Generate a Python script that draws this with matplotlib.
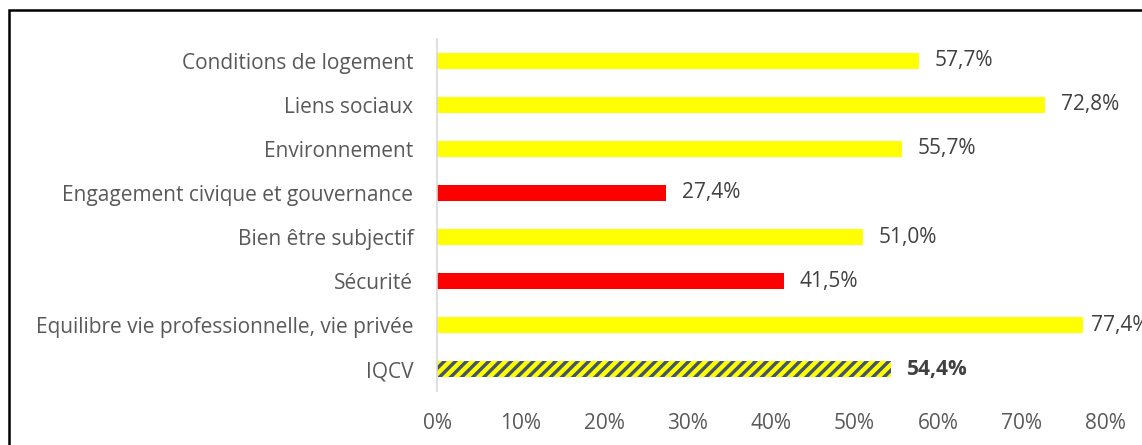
import matplotlib.pyplot as plt
from matplotlib.patches import Rectangle
from matplotlib.ticker import FuncFormatter

plt.rcParams['font.family'] = ['Open Sans', 'DejaVu Sans']
plt.rcParams['hatch.linewidth'] = 3.2

categories = ["IQCV",
              "Equilibre vie professionnelle, vie privée",
              "Sécurité",
              "Bien être subjectif",
              "Engagement civique et gouvernance",
              "Environnement",
              "Liens sociaux",
              "Conditions de logement"]
values = [54.4, 77.4, 41.5, 51.0, 27.4, 55.7, 72.8, 57.7]
colors = ["#44546A", "#FFFF00", "#FF0000", "#FFFF00", "#FF0000",
          "#FFFF00", "#FFFF00", "#FFFF00"]

fig = plt.figure(figsize=(11.42, 4.45), dpi=100)
ax = fig.add_axes([0.3827, 0.1213, 0.5849, 0.7911])

y = list(range(len(categories)))
bars = ax.barh(y, values, height=0.37, color=colors, linewidth=0)
# IQCV bar: dark with yellow diagonal stripes
bars[0].set_hatch("///")
bars[0].set_edgecolor("#FFFF00")

for i, v in enumerate(values):
    # the longest bar's label sits tighter so it stays inside the frame
    offset = 0.9 if v > 75 else 1.9
    ax.text(v + offset, i, f"{v:.1f}%".replace(".", ","), va="center", ha="left",
            fontsize=15, color="#404040",
            fontweight="bold" if i == 0 else "normal", clip_on=False)

ax.set_xlim(0, 80)
ax.set_ylim(-0.5, len(categories) - 0.5)
ax.set_xticks(range(0, 81, 10))
ax.xaxis.set_major_formatter(FuncFormatter(lambda x, p: f"{x:.0f}%"))
ax.set_yticks(y)
ax.set_yticklabels(categories)
ax.tick_params(axis="both", length=0, labelsize=15, labelcolor="#595959")
ax.tick_params(axis="x", pad=16)
ax.tick_params(axis="y", pad=17)

for s in ["top", "right", "bottom"]:
    ax.spines[s].set_visible(False)
ax.spines["left"].set_color("#D9D9D9")
ax.spines["left"].set_linewidth(1.2)

# frame around the chart area
fig.add_artist(Rectangle((9 / 1142, -0.1), 1.2, 1.1 - 10 / 445,
                         transform=fig.transFigure, fill=False,
                         edgecolor="black", linewidth=1.8))

fig.savefig("out.png", dpi=100)
